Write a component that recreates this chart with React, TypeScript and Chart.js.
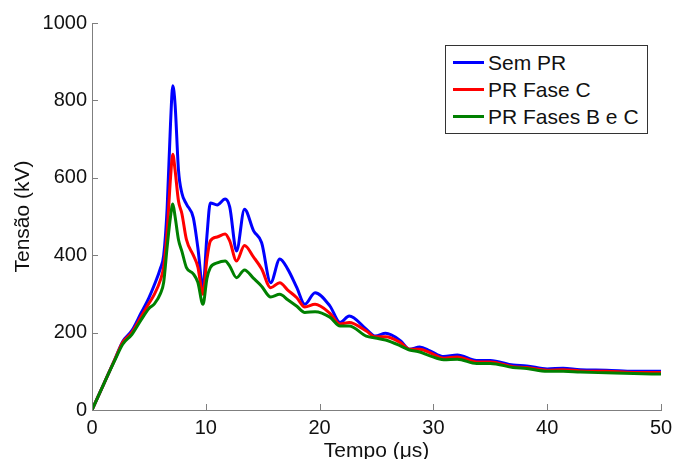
import React, { useEffect, useRef } from "react";
import { Chart, registerables } from "chart.js";
Chart.register(...registerables);

// Time axis (µs)
const timeUs = [
  0, 1, 2, 2.7, 3.5, 4.3, 5, 5.5, 6, 6.3, 6.6, 6.9, 7.1, 7.3, 7.6, 7.9, 8.3, 8.9, 9.3, 9.75,
  10.1, 10.4, 11, 11.7, 12.1, 12.7, 13.4, 14.2, 14.9, 15.7, 16.5, 17.2, 18, 18.7, 19.6, 20.9,
  21.8, 22.6, 24.1, 24.9, 25.8, 27.1, 27.9, 28.8, 29.7, 30.9, 32.1, 33.8, 35, 37, 38.2, 40,
  41.4, 42.9, 45.2, 47.6, 50,
];

// Tensão (kV)
const semPR = [
  0, 65, 130, 177, 205, 250, 290, 325, 365, 400, 520, 740, 838, 790, 620, 560, 532, 497, 420, 316,
  450, 535, 530, 545, 525, 411, 519, 463, 433, 329, 390, 364, 316, 273, 303, 269,
  226, 243, 209, 191, 198, 179, 157, 163, 153, 138, 142, 128, 128, 116, 114, 106,
  108, 104, 103, 100, 100,
];
const prFaseC = [
  0, 65, 130, 175, 200, 240, 275, 300, 335, 370, 460, 600, 661, 620, 540, 507, 440, 400, 370, 299,
  390, 437, 447, 455, 437, 385, 425, 395, 365, 316, 329, 310, 290, 266, 273, 250,
  222, 226, 204, 189, 189, 174, 157, 157, 148, 134, 137, 124, 124, 112, 110, 103,
  104, 101, 100, 97, 97,
];
const prFasesBC = [
  0, 65, 128, 170, 195, 232, 262, 275, 300, 330, 420, 500, 532, 500, 440, 410, 368, 352, 330, 273,
  340, 368, 380, 385, 372, 342, 362, 340, 320, 292, 299, 285, 268, 252, 254, 240,
  217, 217, 191, 186, 181, 166, 155, 150, 140, 130, 131, 120, 120, 110, 107, 100,
  100, 98, 96, 94, 93,
];

const seriesLabels = ["Sem PR", "PR Fase C", "PR Fases B e C"];
const seriesColors = ["#0000FF", "#FF0000", "#008000"];
const seriesValues = [semPR, prFaseC, prFasesBC];

const xTickValues = [0, 10, 20, 30, 40, 50];
const yTickValues = [0, 200, 400, 600, 800, 1000];
const xTitle = "Tempo (μs)";
const yTitle = "Tensão (kV)";

const FONT = "'Liberation Sans', Arial, sans-serif";

const innerTicks = {
  id: "innerTicks",
  afterDatasetsDraw(chart: any) {
    const { ctx, chartArea, scales } = chart;
    ctx.save();
    ctx.strokeStyle = "#7f7f7f";
    ctx.lineWidth = 1;
    ctx.beginPath();
    xTickValues.forEach((v) => {
      const px = Math.round(scales.x.getPixelForValue(v)) + 0.5;
      ctx.moveTo(px, chartArea.bottom);
      ctx.lineTo(px, chartArea.bottom - 6);
    });
    yTickValues.forEach((v) => {
      const py = Math.round(scales.y.getPixelForValue(v)) + 0.5;
      ctx.moveTo(chartArea.left, py);
      ctx.lineTo(chartArea.left + 6, py);
    });
    ctx.stroke();
    ctx.restore();
  },
};

export default function App() {
  const canvasRef = useRef<HTMLCanvasElement | null>(null);

  useEffect(() => {
    document.body.style.margin = "0";
    const canvas = canvasRef.current;
    if (!canvas) return;
    const datasets = seriesValues.map((vals, i) => ({
      label: seriesLabels[i],
      data: timeUs.map((t, k) => ({ x: t, y: vals[k] })),
      borderColor: seriesColors[i],
      backgroundColor: seriesColors[i],
      borderWidth: 3,
      pointRadius: 0,
      cubicInterpolationMode: "monotone" as const,
      fill: false,
      order: 3 - i,
    }));
    const chart = new Chart(canvas, {
      type: "line",
      data: { datasets },
      plugins: [innerTicks],
      options: {
        animation: false,
        responsive: false,
        devicePixelRatio: 1,
        layout: { padding: { top: 23, right: 12, left: 0, bottom: 0 } },
        plugins: { legend: { display: false }, tooltip: { enabled: false } },
        scales: {
          x: {
            type: "linear",
            min: 0,
            max: 50,
            afterBuildTicks: (s: any) => {
              s.ticks = xTickValues.map((v) => ({ value: v }));
            },
            afterFit: (s: any) => {
              s.height = 49;
              s.paddingLeft = 0;
              s.paddingRight = 0;
            },
            ticks: {
              color: "#111",
              font: { family: FONT, size: 20 },
              padding: 6,
              maxRotation: 0,
              callback: (v: any) => String(v),
            },
            grid: { display: false, drawTicks: false },
            border: { display: true, color: "#7f7f7f", width: 1 },
            title: {
              display: true,
              text: xTitle,
              color: "#111",
              font: { family: FONT, size: 21 },
              padding: { top: 0, bottom: -5 },
            },
          },
          y: {
            type: "linear",
            min: 0,
            max: 1000,
            afterBuildTicks: (s: any) => {
              s.ticks = yTickValues.map((v) => ({ value: v }));
            },
            afterFit: (s: any) => {
              s.width = 92;
              s.paddingTop = 0;
              s.paddingBottom = 0;
            },
            ticks: {
              color: "#111",
              font: { family: FONT, size: 20 },
              padding: 5,
              callback: (v: any) => String(v),
            },
            grid: { display: false, drawTicks: false },
            border: { display: true, color: "#7f7f7f", width: 1 },
            title: {
              display: true,
              text: yTitle,
              color: "#111",
              font: { family: FONT, size: 21 },
              padding: { top: 11, bottom: 0 },
            },
          },
        },
      },
    });
    return () => chart.destroy();
  }, []);

  return (
    <div style={{ position: "relative", width: 673, height: 459, background: "#fff", overflow: "hidden" }}>
      <canvas ref={canvasRef} width={673} height={459} style={{ display: "block" }} />
      <div
        style={{
          position: "absolute",
          left: 445,
          top: 45,
          width: 201,
          height: 84,
          border: "1px solid #333",
          background: "#fff",
          boxSizing: "content-box",
          fontFamily: FONT,
          fontSize: 21,
          color: "#111",
          paddingTop: 3,
        }}
      >
        {seriesLabels.map((lab, i) => (
          <div key={lab} style={{ display: "flex", alignItems: "center", height: 27, paddingLeft: 7 }}>
            <span style={{ display: "inline-block", width: 31, height: 3, background: seriesColors[i], marginRight: 4 }} />
            <span style={{ lineHeight: "27px", whiteSpace: "nowrap" }}>{lab}</span>
          </div>
        ))}
      </div>
    </div>
  );
}
